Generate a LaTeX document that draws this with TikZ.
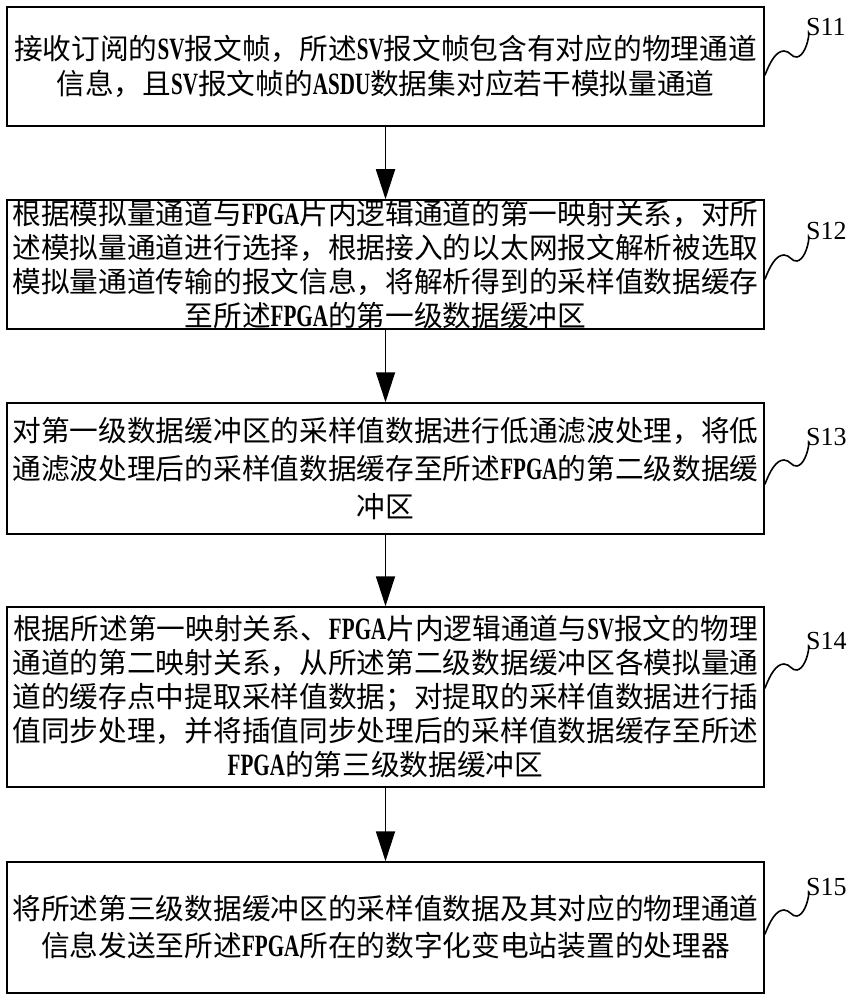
\documentclass[tikz,border=0pt]{standalone}
\usepackage{fontspec}
\setmainfont{Noto Sans CJK SC}
\newfontfamily\enfont[Scale=1.08,FakeStretch=0.68]{Liberation Serif}
\newfontfamily\labfont{Liberation Serif}
\newcommand\en[1]{{\enfont\bfseries #1}}
\usetikzlibrary{arrows.meta}
\tikzset{
  box/.style={draw=black, line width=1.5pt, minimum width=757pt, inner xsep=0pt, inner ysep=0pt,
    text width=757pt, align=center},
  ls/.style={font=\fontsize{28.7pt}{#1}\selectfont},
  arr/.style={line width=1.8pt, -{Triangle[length=30pt,width=19pt]}},
  steplabel/.style={font=\labfont\fontsize{26pt}{28pt}\selectfont, anchor=base west, inner sep=0pt},
  squiggle/.pic={\draw[line width=1.6pt, line cap=round] (0,0) .. controls (5,-13) and (11,-24) .. (19,-24)
      .. controls (25,-24) and (27,-17) .. (32,-18) .. controls (38,-19) and (43,-30) .. (44,-42);
      \coordinate (-end) at (44,-42);}
}
\begin{document}
\begin{tikzpicture}[x=1pt,y=-1pt]
\useasboundingbox[fill=white] (0,0) rectangle (852,1000);
\node[box, ls=35pt, minimum height=119pt] (b1) at (385.5,66.5)
  {接收订阅的\en{SV}报文帧，所述\en{SV}报文帧包含有对应的物理通道\\信息，且\en{SV}报文帧的\en{ASDU}数据集对应若干模拟量通道};
\node[box, ls=34pt, minimum height=129pt] (b2) at (385.5,264.5)
  {根据模拟量通道与\en{FPGA}片内逻辑通道的第一映射关系，对所\\述模拟量通道进行选择，根据接入的以太网报文解析被选取\\模拟量通道传输的报文信息，将解析得到的采样值数据缓存\\至所述\en{FPGA}的第一级数据缓冲区};
\node[box, ls=38pt, minimum height=131pt] (b3) at (385.5,468.5)
  {对第一级数据缓冲区的采样值数据进行低通滤波处理，将低\\通滤波处理后的采样值数据缓存至所述\en{FPGA}的第二级数据缓\\冲区};
\node[box, ls=34pt, minimum height=180pt] (b4) at (385.5,697)
  {根据所述第一映射关系、\en{FPGA}片内逻辑通道与\en{SV}报文的物理\\通道的第二映射关系，从所述第二级数据缓冲区各模拟量通\\道的缓存点中提取采样值数据；对提取的采样值数据进行插\\值同步处理，并将插值同步处理后的采样值数据缓存至所述\\\en{FPGA}的第三级数据缓冲区};
\node[box, ls=37pt, minimum height=131pt] (b5) at (385.5,927.5)
  {将所述第三级数据缓冲区的采样值数据及其对应的物理通道\\信息发送至所述\en{FPGA}所在的数字化变电站装置的处理器};
\draw[arr] (b1.south) -- (b2.north);
\draw[arr] (b2.south) -- (b3.north);
\draw[arr] (b3.south) -- (b4.north);
\draw[arr] (b4.south) -- (b5.north);
\pic (q1) at (765,75) {squiggle};
\pic (q2) at (765,279) {squiggle};
\pic (q3) at (765,484) {squiggle};
\pic (q4) at (765,688) {squiggle};
\pic (q5) at (765,934) {squiggle};
\node[steplabel] (l1) at ([shift={(-3,3)}]q1-end) {S11};
\node[steplabel] (l2) at ([shift={(-3,3)}]q2-end) {S12};
\node[steplabel] (l3) at ([shift={(-3,3)}]q3-end) {S13};
\node[steplabel] (l4) at ([shift={(-3,3)}]q4-end) {S14};
\node[steplabel] (l5) at ([shift={(-3,3)}]q5-end) {S15};
\end{tikzpicture}
\end{document}
